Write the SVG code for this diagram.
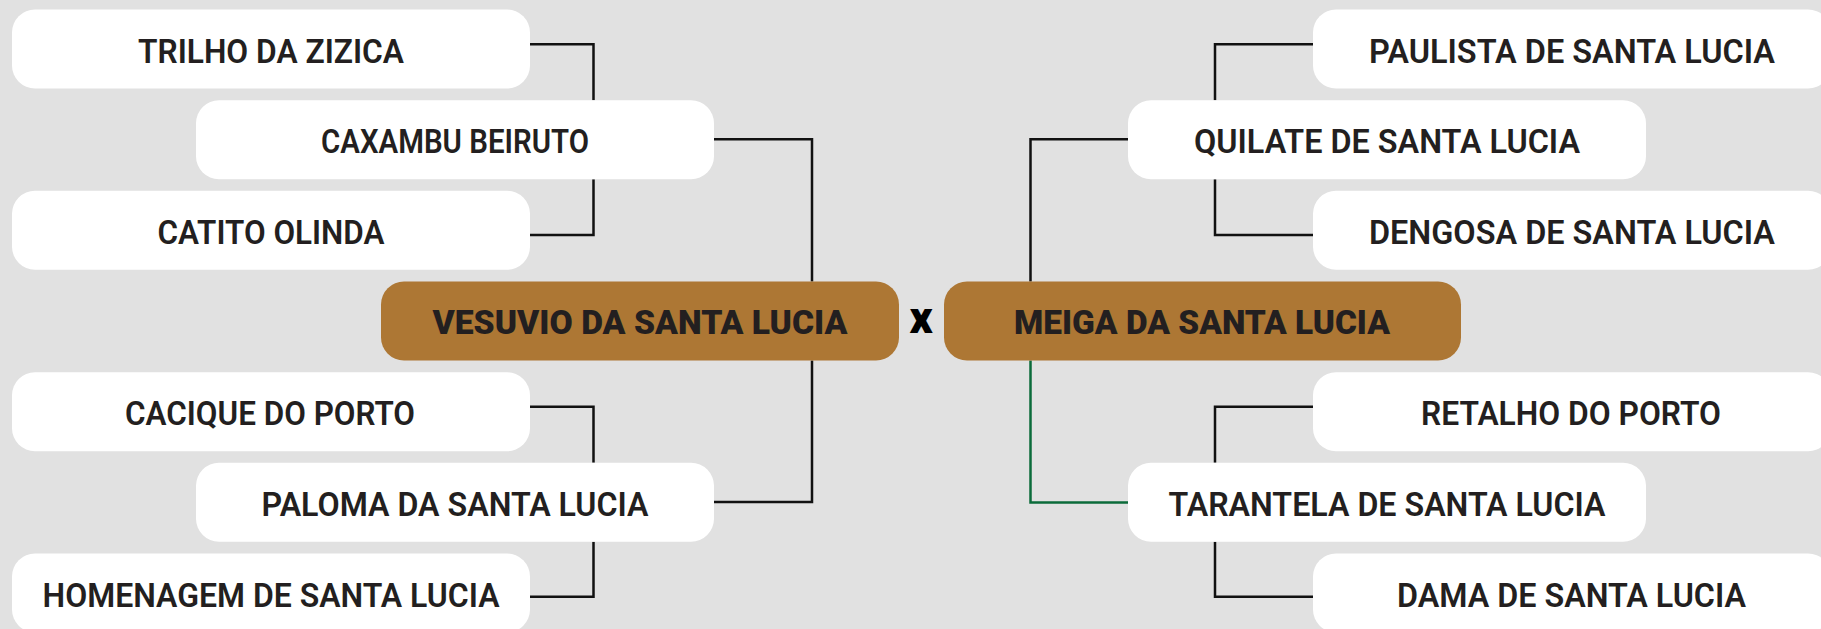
<svg xmlns="http://www.w3.org/2000/svg" width="1821" height="629" viewBox="0 0 1821 629">
<style>
.bg{fill:#e1e1e1}
.box{fill:#ffffff}
.main{fill:#ad7734}
.t{font-family:Roboto,"Liberation Sans",sans-serif;font-size:33px;font-weight:600;fill:#231f20;text-anchor:middle}
.tm{font-family:Roboto,"Liberation Sans",sans-serif;font-size:34px;font-weight:900;fill:#231f20;text-anchor:middle}
.vs{font-family:Roboto,"Liberation Sans",sans-serif;font-size:45px;font-weight:900;fill:#000000;text-anchor:middle}
.c{fill:none;stroke:#111111;stroke-width:2.5}
.g{fill:none;stroke:#0b6b3a;stroke-width:2.5}
</style>
<rect class="bg" x="0" y="0" width="1821" height="629"/>
<g id="connectors">
<path class="c" d="M530,44.3 H593.5 V100.2"/>
<path class="c" d="M530,235 H593.5 V179.2"/>
<path class="c" d="M714,139.3 H812 V281.5"/>
<path class="c" d="M530,406.7 H593.5 V462.8"/>
<path class="c" d="M530,596.7 H593.5 V541.8"/>
<path class="c" d="M714,502 H812 V360.5"/>
<path class="c" d="M1313,44.3 H1215 V100.2"/>
<path class="c" d="M1313,235 H1215 V179.2"/>
<path class="c" d="M1128,139.3 H1030.5 V281.5"/>
<path class="c" d="M1313,406.7 H1215 V462.8"/>
<path class="c" d="M1313,596.7 H1215 V541.8"/>
<path class="g" d="M1128,502.5 H1030.5 V360.5"/>
</g>
<g id="trilho"><rect class="box" x="12" y="9.5" width="518" height="79" rx="23"/><text class="t" x="271" y="62.5" textLength="266" lengthAdjust="spacingAndGlyphs">TRILHO DA ZIZICA</text></g>
<g id="caxambu"><rect class="box" x="196" y="100.2" width="518" height="79" rx="23"/><text class="t" x="455" y="153.2" textLength="268" lengthAdjust="spacingAndGlyphs">CAXAMBU BEIRUTO</text></g>
<g id="catito"><rect class="box" x="12" y="190.8" width="518" height="79" rx="23"/><text class="t" x="271" y="243.8" textLength="227" lengthAdjust="spacingAndGlyphs">CATITO OLINDA</text></g>
<g id="vesuvio"><rect class="main" x="381" y="281.5" width="518" height="79" rx="23"/><text class="tm" x="640" y="334.3" textLength="415" lengthAdjust="spacingAndGlyphs">VESUVIO DA SANTA LUCIA</text></g>
<g id="cacique"><rect class="box" x="12" y="372.2" width="518" height="79" rx="23"/><text class="t" x="270" y="425.2" textLength="290" lengthAdjust="spacingAndGlyphs">CACIQUE DO PORTO</text></g>
<g id="paloma"><rect class="box" x="196" y="462.8" width="518" height="79" rx="23"/><text class="t" x="455" y="515.8" textLength="387" lengthAdjust="spacingAndGlyphs">PALOMA DA SANTA LUCIA</text></g>
<g id="homenagem"><rect class="box" x="12" y="553.5" width="518" height="79" rx="23"/><text class="t" x="271" y="606.5" textLength="457" lengthAdjust="spacingAndGlyphs">HOMENAGEM DE SANTA LUCIA</text></g>
<text id="versus" class="vs" x="921" y="333">x</text>
<g id="meiga"><rect class="main" x="944" y="281.5" width="517" height="79" rx="23"/><text class="tm" x="1202" y="334.3" textLength="376" lengthAdjust="spacingAndGlyphs">MEIGA DA SANTA LUCIA</text></g>
<g id="paulista"><rect class="box" x="1313" y="9.5" width="518" height="79" rx="23"/><text class="t" x="1572" y="62.5" textLength="406" lengthAdjust="spacingAndGlyphs">PAULISTA DE SANTA LUCIA</text></g>
<g id="quilate"><rect class="box" x="1128" y="100.2" width="518" height="79" rx="23"/><text class="t" x="1387" y="153.2" textLength="386" lengthAdjust="spacingAndGlyphs">QUILATE DE SANTA LUCIA</text></g>
<g id="dengosa"><rect class="box" x="1313" y="190.8" width="518" height="79" rx="23"/><text class="t" x="1572" y="243.8" textLength="406" lengthAdjust="spacingAndGlyphs">DENGOSA DE SANTA LUCIA</text></g>
<g id="retalho"><rect class="box" x="1313" y="372.2" width="518" height="79" rx="23"/><text class="t" x="1571" y="425.2" textLength="300" lengthAdjust="spacingAndGlyphs">RETALHO DO PORTO</text></g>
<g id="tarantela"><rect class="box" x="1128" y="462.8" width="518" height="79" rx="23"/><text class="t" x="1387" y="515.8" textLength="437" lengthAdjust="spacingAndGlyphs">TARANTELA DE SANTA LUCIA</text></g>
<g id="dama"><rect class="box" x="1313" y="553.5" width="518" height="79" rx="23"/><text class="t" x="1571.5" y="606.5" textLength="349" lengthAdjust="spacingAndGlyphs">DAMA DE SANTA LUCIA</text></g>
</svg>
